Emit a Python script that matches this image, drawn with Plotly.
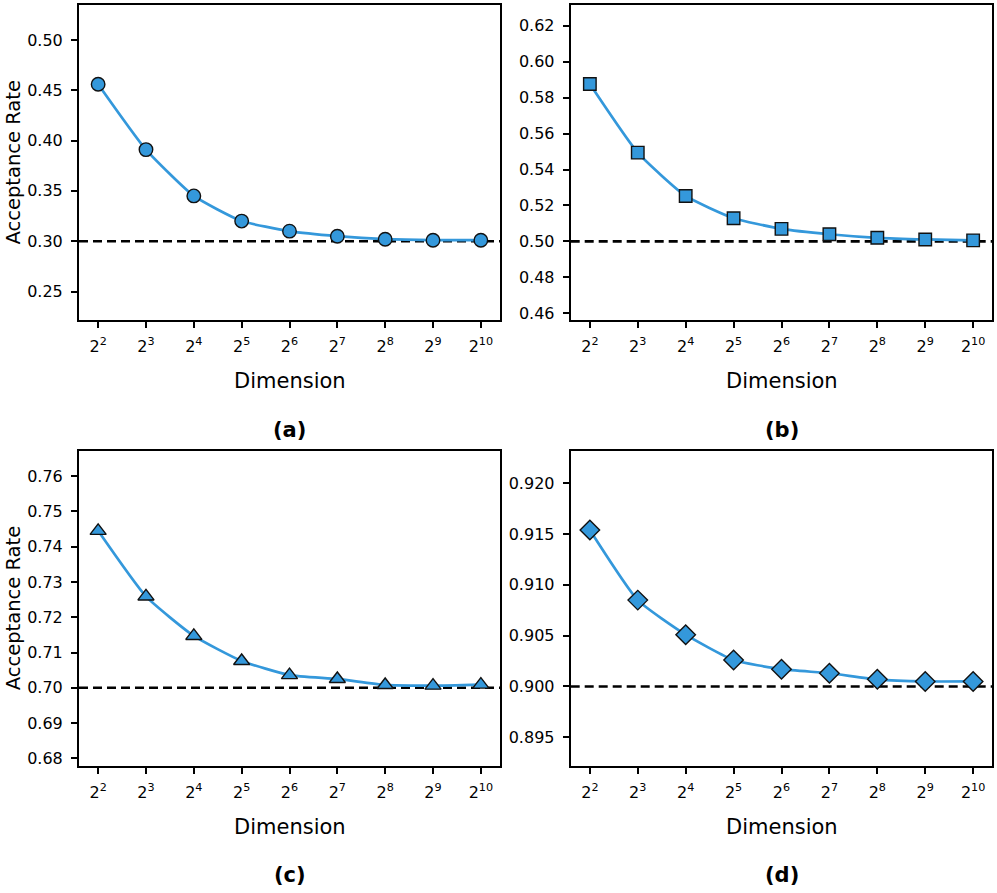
import math
import plotly.graph_objects as go

dims = [4, 8, 16, 32, 64, 128, 256, 512, 1024]
tick_text = ["2<sup>%d</sup>" % k for k in range(2, 11)]

rate_a = [0.456, 0.391, 0.345, 0.320, 0.310, 0.305, 0.302, 0.301, 0.301]
rate_b = [0.5876, 0.5494, 0.5253, 0.5129, 0.5070, 0.5040, 0.5020, 0.5011, 0.5006]
rate_c = [0.7445, 0.7259, 0.7147, 0.7076, 0.7036, 0.7025, 0.7008, 0.7006, 0.7009]
rate_d = [0.9154, 0.9085, 0.9051, 0.9026, 0.9017, 0.9013, 0.9007, 0.9005, 0.9005]
targets = [0.30, 0.50, 0.70, 0.90]
panel_labels = ["(a)", "(b)", "(c)", "(d)"]
symbols = ["circle", "square", "triangle-up", "diamond"]
sizes = [13.5, 12.5, 14, 15]
yranges = [[0.2218, 0.5347], [0.4563, 0.6316], [0.6779, 0.7672], [0.8922, 0.9232]]
ytickvals = [
    [0.25, 0.30, 0.35, 0.40, 0.45, 0.50],
    [0.46, 0.48, 0.50, 0.52, 0.54, 0.56, 0.58, 0.60, 0.62],
    [0.68, 0.69, 0.70, 0.71, 0.72, 0.73, 0.74, 0.75, 0.76],
    [0.895, 0.900, 0.905, 0.910, 0.915, 0.920],
]
yfmt = [".2f", ".2f", ".2f", ".3f"]
series = [rate_a, rate_b, rate_c, rate_d]

W, H = 997, 893
xdoms = [[79 / W, 500 / W], [570.7 / W, 992.3 / W]]
ydoms = [[1 - 321 / H, 1 - 5 / H], [1 - 768.3 / H, 1 - 452.3 / H]]

LINE = "#3498db"
FONT = "DejaVu Sans"

fig = go.Figure()
annotations = []
shapes = []
xr = [1.6 * math.log10(2), 10.4 * math.log10(2)]

for i in range(4):
    row, col = divmod(i, 2)
    xa = "x" if i == 0 else "x%d" % (i + 1)
    ya = "y" if i == 0 else "y%d" % (i + 1)
    xkey = "xaxis" if i == 0 else "xaxis%d" % (i + 1)
    ykey = "yaxis" if i == 0 else "yaxis%d" % (i + 1)
    fig.add_trace(go.Scatter(
        x=dims, y=series[i], xaxis=xa, yaxis=ya, mode="lines+markers",
        line=dict(color=LINE, width=2.7, shape="spline", smoothing=0.5),
        marker=dict(symbol=symbols[i], size=sizes[i], color=LINE,
                    line=dict(color="#111111", width=1.4)),
        showlegend=False, cliponaxis=False,
    ))
    shapes.append(dict(type="line", xref="%s domain" % xa, yref=ya,
                       x0=0, x1=1, y0=targets[i], y1=targets[i],
                       line=dict(color="black", width=2.6, dash="9px,5px"),
                       layer="below"))
    common = dict(showline=True, mirror=True, linecolor="black", linewidth=2,
                  ticks="outside", ticklen=6, tickwidth=1.8, tickcolor="black",
                  showgrid=False, zeroline=False,
                  tickfont=dict(family=FONT, size=16, color="black"))
    fig.layout[xkey] = dict(domain=xdoms[col], anchor=ya, type="log", range=xr,
                            tickvals=dims, ticktext=tick_text,
                            ticklabelstandoff=5, **common)
    fig.layout[ykey] = dict(domain=ydoms[row], anchor=xa, range=yranges[i],
                            tickvals=ytickvals[i], tickformat=yfmt[i],
                            ticklabelstandoff=5, **common)
    xc = (xdoms[col][0] + xdoms[col][1]) / 2
    ybot_px = 321 if row == 0 else 768.3
    annotations.append(dict(text="Dimension", xref="paper", yref="paper",
                            x=xc, y=1 - (ybot_px + 61) / H, showarrow=False,
                            xanchor="center", yanchor="middle",
                            font=dict(family=FONT, size=21, color="black")))
    annotations.append(dict(text="<b>%s</b>" % panel_labels[i], xref="paper", yref="paper",
                            x=xc, y=1 - (ybot_px + 110) / H, showarrow=False,
                            xanchor="center", yanchor="middle",
                            font=dict(family=FONT, size=21, color="black")))
    if col == 0:
        yc = (ydoms[row][0] + ydoms[row][1]) / 2
        annotations.append(dict(text="Acceptance Rate", xref="paper", yref="paper",
                                x=13 / W, y=yc, showarrow=False, textangle=-90,
                                xanchor="center", yanchor="middle",
                                font=dict(family=FONT, size=19.5, color="black")))

fig.update_layout(width=W, height=H, margin=dict(l=0, r=0, t=0, b=0),
                  paper_bgcolor="white", plot_bgcolor="white",
                  annotations=annotations, shapes=shapes,
                  font=dict(family=FONT, color="black"))
fig.write_html("out.html", config={"displayModeBar": False},
               post_script="document.body.style.margin='0';document.body.style.padding='0';document.body.style.overflow='hidden';")
